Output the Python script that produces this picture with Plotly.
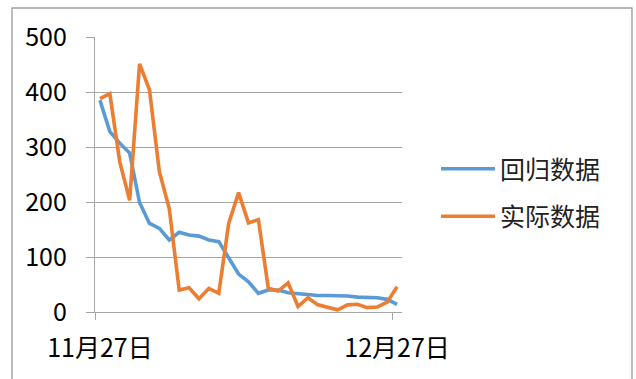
import datetime as dt
import plotly.graph_objects as go

# Daily categories 11/27 .. 12/27
start = dt.date(2013, 11, 27)
days = [start + dt.timedelta(days=i) for i in range(31)]
categories = [f"{d.month}月{d.day}日" for d in days]

# Fitted (regression) values
regression = [385, 328, 307, 289, 199, 161, 152, 131, 145, 140, 138, 131, 128,
               100, 69, 55, 34, 40, 40, 35, 33, 32, 30, 30, 30, 29, 27, 27,
               26, 23, 14]
# Observed values
actual = [388, 397, 273, 203, 451, 404, 255, 188, 40, 44, 24, 43, 34,
          161, 217, 162, 168, 43, 38, 53, 10, 26, 13, 8, 4, 13, 14, 8,
          9, 18, 46]

series_names = ["回归数据", "实际数据"]
series_colors = ["#5B9BD5", "#ED7D31"]

W, H = 636, 379
ML, MR, MT, MB = 95, 234, 37, 67
PW, PH = W - ML - MR, H - MT - MB

FONT = "Noto Sans CJK SC, Noto Sans, sans-serif"
GRID = "#a6a6a6"

fig = go.Figure()
for name, vals, col in zip(series_names, [regression, actual], series_colors):
    fig.add_trace(go.Scatter(
        x=categories, y=vals, name=name, mode="lines",
        line=dict(color=col, width=3.6), legendgroup=name,
    ))


def px_x(p):
    return (p - ML) / PW


def px_y(p):
    return (H - MB - p) / PH


fig.update_layout(
    width=W, height=H,
    margin=dict(l=ML, r=MR, t=MT, b=MB, autoexpand=False),
    paper_bgcolor="white", plot_bgcolor="white",
    font=dict(family=FONT, size=25, color="#000000"),
    showlegend=True,
    legend=dict(
        x=px_x(436), y=px_y(146), xanchor="left", yanchor="top",
        font=dict(family=FONT, size=25, color="#222222"),
        itemwidth=54, tracegroupgap=12, bgcolor="rgba(0,0,0,0)",
    ),
    xaxis=dict(
        type="category", tickmode="linear", tick0=0, dtick=30,
        tickson="boundaries", ticks="outside", ticklen=7, tickcolor=GRID,
        tickangle=0, automargin=False,
        showline=True, linecolor=GRID, linewidth=1.3,
        showgrid=False, zeroline=False, range=[-0.5, 30.5],
        ticklabelstandoff=14,
    ),
    yaxis=dict(
        range=[0, 500], tickvals=[0, 100, 200, 300, 400, 500],
        ticks="outside", ticklen=8, tickcolor=GRID, automargin=False,
        showline=True, linecolor=GRID, linewidth=1.3,
        showgrid=True, gridcolor=GRID, gridwidth=1.2, zeroline=False,
        ticklabelstandoff=14,
    ),
    shapes=[dict(
        type="rect", xref="paper", yref="paper",
        x0=px_x(12), x1=px_x(632), y0=px_y(395), y1=px_y(8),
        line=dict(color="#a0a0a0", width=1.4), layer="below",
    )],
)

fig.write_html("out.html")
